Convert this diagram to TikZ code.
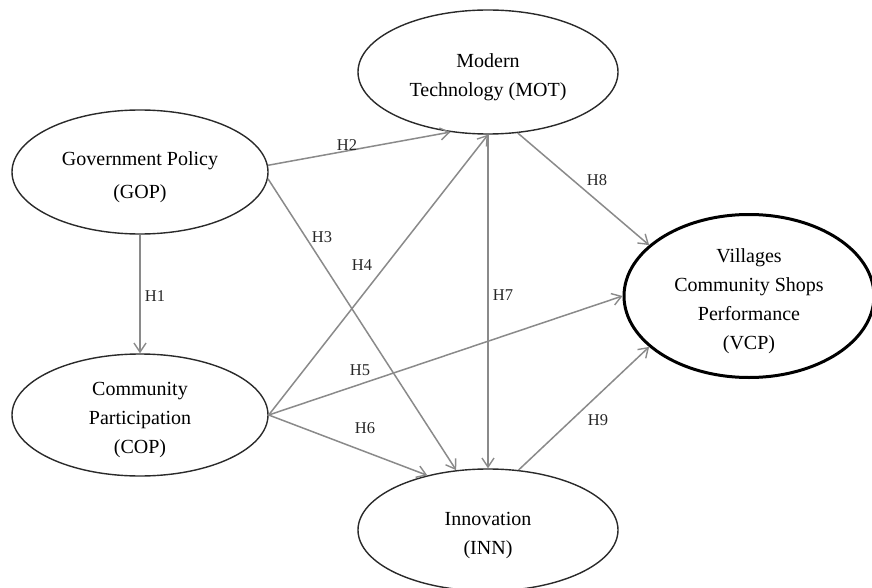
\documentclass[tikz,border=0pt]{standalone}
\usepackage{fontspec}
\setmainfont{Liberation Serif}
\usetikzlibrary{shapes.geometric,arrows.meta}
\definecolor{linegray}{HTML}{8A8A8A}
\definecolor{edgedark}{HTML}{2A2A2A}
\newcommand{\tup}{\rule{0pt}{24pt}}
\tikzset{
  latent/.style={ellipse, draw=edgedark, line width=1.4pt, inner sep=0pt, align=center,
    font=\fontsize{20}{29}\selectfont},
  path/.style={draw=linegray, line width=1.5pt, -{Straight Barb[length=9pt,width=12pt,line width=1.4pt]}},
  hlab/.style={font=\fontsize{16.5}{19}\selectfont, text=black!85}
}
\begin{document}
\begin{tikzpicture}[x=1pt,y=-1pt]
\useasboundingbox (0,0) rectangle (872,588);
\node[latent, minimum width=256pt, minimum height=124pt] (gop) at (140,172) {\tup Government Policy\\[4pt](GOP)};
\node[latent, minimum width=256pt, minimum height=116pt] (cop) at (140,415) {\tup Community\\Participation\\(COP)};
\node[latent, minimum width=260pt, minimum height=124pt] (mot) at (488,72) {\tup Modern\\Technology (MOT)};
\node[latent, minimum width=260pt, minimum height=122pt] (inn) at (488,530) {\tup Innovation\\(INN)};
\node[latent, line width=3pt, draw=black, minimum width=250pt, minimum height=122pt] (vcp) at (749,296) {\tup Villages\\Community Shops\\Performance\\(VCP)};

\draw[path] (gop.south) -- (cop.north);
\draw[path] (gop.3) -- (mot.238);
\draw[path] (gop.-3) -- (inn.118);
\draw[path] (cop.east) -- (mot.south);
\draw[path] (cop.east) -- (vcp.180);
\draw[path] (cop.east) -- (inn.138);
\draw[path] (mot.south) -- (inn.north);
\draw[path] (mot.296) -- (vcp.153);
\draw[path] (inn.63) -- (vcp.207);

\node[hlab] (h1) at (155,296) {H1};
\node[hlab] (h2) at (347,145) {H2};
\node[hlab] (h3) at (322,237) {H3};
\node[hlab] (h4) at (362,265) {H4};
\node[hlab] (h5) at (360,370) {H5};
\node[hlab] (h6) at (365,428) {H6};
\node[hlab] (h7) at (503,295) {H7};
\node[hlab] (h8) at (597,180) {H8};
\node[hlab] (h9) at (598,420) {H9};
\end{tikzpicture}
\end{document}
